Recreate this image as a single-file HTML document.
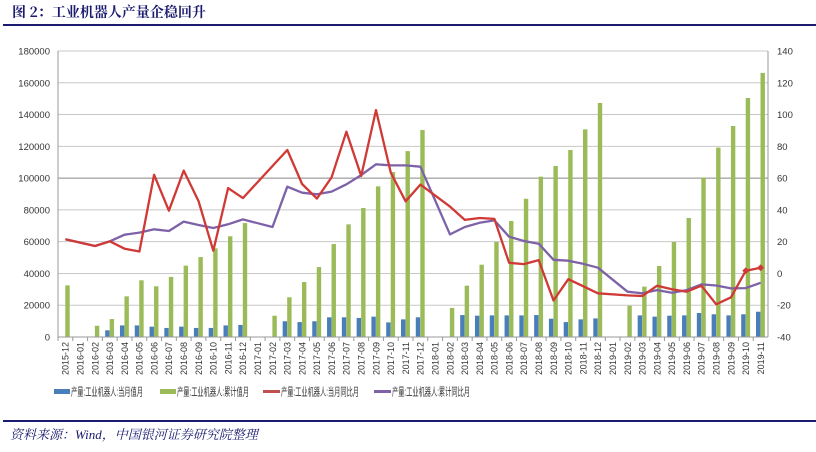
<!DOCTYPE html>
<html><head><meta charset="utf-8"><style>
body{margin:0;background:#fff;width:816px;height:447px;overflow:hidden;font-family:"Liberation Sans","Noto Sans CJK SC",sans-serif;}
</style></head><body>
<svg width="816" height="447" xmlns="http://www.w3.org/2000/svg">
<text x="12" y="17" font-size="14" font-weight="bold" fill="#1a1a6e" font-family="'Noto Serif CJK SC','Noto Sans CJK SC',serif">图 2：工业机器人产量企稳回升</text>
<rect x="3" y="24" width="813" height="2" fill="#1a1a6e"/>
<g id="grid"></g><g id="bars"></g><g id="lines"></g><g id="axes"></g>
<g font-size="11" fill="#333">
<rect x="54" y="389" width="16" height="5" fill="#4a7ebb"/>
<text x="71" y="395.5" textLength="72" lengthAdjust="spacingAndGlyphs">产量:工业机器人:当月值月</text>
<rect x="160" y="389" width="16" height="5" fill="#9bbb59"/>
<text x="177" y="395.5" textLength="72" lengthAdjust="spacingAndGlyphs">产量:工业机器人:累计值月</text>
<rect x="263" y="390" width="17" height="3" fill="#c0504d"/>
<text x="281" y="395.5" textLength="78" lengthAdjust="spacingAndGlyphs">产量:工业机器人:当月同比月</text>
<rect x="374" y="390" width="17" height="3" fill="#7e62a8"/>
<text x="392" y="395.5" textLength="78" lengthAdjust="spacingAndGlyphs">产量:工业机器人:累计同比月</text>
</g>
<rect x="3" y="420" width="813" height="2" fill="#1a1a6e"/>
<text x="10" y="439" font-size="13" font-style="italic" fill="#1a1a6e" font-family="'Liberation Serif','Noto Serif CJK SC',serif">资料来源：Wind，中国银河证券研究院整理</text>
</svg>
<script>
const categories=["2015-12","2016-01","2016-02","2016-03","2016-04","2016-05","2016-06","2016-07","2016-08","2016-09","2016-10","2016-11","2016-12","2017-01","2017-02","2017-03","2017-04","2017-05","2017-06","2017-07","2017-08","2017-09","2017-10","2017-11","2017-12","2018-01","2018-02","2018-03","2018-04","2018-05","2018-06","2018-07","2018-08","2018-09","2018-10","2018-11","2018-12","2019-01","2019-02","2019-03","2019-04","2019-05","2019-06","2019-07","2019-08","2019-09","2019-10","2019-11"];
const monthly=[null,null,null,4200,7300,7300,6500,5700,6500,5700,5700,7300,7600,null,null,9900,9400,9900,12400,12400,12000,12800,9200,11100,12400,null,null,13800,13400,13600,13600,13600,13800,11500,9400,11100,11700,null,null,13600,12800,13400,13600,15100,14300,13600,14300,15900];
const cumulative=[32500,null,7100,11300,25600,35700,31900,37800,44900,50300,55800,63400,71700,null,13400,25000,34600,44000,58500,70900,81200,94800,103800,117000,130300,null,18300,32300,45500,59800,73000,87000,100900,107600,117700,130700,147300,null,19700,31700,44700,59800,74900,100300,119200,132800,150400,166200];
const monthlyYoy=[21.5,null,17.3,20.2,15.6,13.8,62.1,39.5,64.7,45.6,14.3,53.7,47.4,null,null,77.7,56.3,47.1,60.5,89.2,61.3,102.8,63.4,45.4,55.9,null,42.1,33.7,34.9,34.3,6.7,5.9,8.4,-17.0,-3.6,-8.0,-12.5,null,-13.8,-14.2,-7.7,-10.0,-11.5,-7.7,-19.4,-15.0,1.7,3.6];
const cumulativeYoy=[21.5,null,17.3,20.2,24.4,25.7,27.8,26.7,32.6,30.5,28.6,30.9,34.0,null,29.2,54.6,50.8,49.8,51.5,56.1,61.9,68.7,68.0,68.0,67.2,null,24.6,29.2,31.9,33.4,23.1,20.4,18.7,8.6,8.0,6.1,3.6,null,-11.5,-12.5,-10.5,-12.1,-10.5,-6.9,-7.6,-9.4,-9.2,-5.9];
const leftTicks=[0,20000,40000,60000,80000,100000,120000,140000,160000,180000];
const rightTicks=[-40,-20,0,20,40,60,80,100,120,140];
const NS="http://www.w3.org/2000/svg";
const X0=58,X1=768,Y0=337,Y1=51;
const step=(X1-X0)/categories.length;
const cx=i=>X0+(i+0.5)*step;
const yL=v=>Y0-(v/180000)*(Y0-Y1);
const yR=v=>Y0-((v+40)/180)*(Y0-Y1);
function mk(tag,attrs,parent){const e=document.createElementNS(NS,tag);for(const k in attrs)e.setAttribute(k,attrs[k]);document.getElementById(parent).appendChild(e);return e;}
leftTicks.forEach(t=>{
 const g=mk('line',{x1:X0,x2:X1,y1:yL(t),y2:yL(t),stroke:t===100000?'#888':'#c8c8c8','stroke-width':1},'grid');
 
 
 const l=mk('text',{x:X0-8,y:yL(t)+3.5,'text-anchor':'end','font-size':9.5,fill:'#333'},'axes');l.textContent=t;
 
 
});
rightTicks.forEach(t=>{
 const l=mk('text',{x:X1+9,y:yR(t)+3.5,'font-size':9.5,fill:'#333'},'axes');l.textContent=t;
 
 
});
let a=mk('line',{x1:X0,x2:X0,y1:Y1,y2:Y0,stroke:'#999'},'axes');


a=mk('line',{x1:X1,x2:X1,y1:Y1,y2:Y0,stroke:'#999'},'axes');


a=mk('line',{x1:X0,x2:X1,y1:Y0,y2:Y0,stroke:'#999'},'axes');


categories.forEach((c,i)=>{
 const tk=mk('line',{x1:X0+i*step,x2:X0+i*step,y1:Y0,y2:Y0+4,stroke:'#999'},'axes');
 
 
 const x=cx(i)+3.3;
 const t=mk('text',{x:x,y:342,'font-size':9,fill:'#333','text-anchor':'end',transform:`rotate(-90 ${x} 342)`},'axes');t.textContent=c;
 
 
 if(monthly[i]!=null){const r=mk('rect',{x:cx(i)-4.6,y:yL(monthly[i]),width:4.4,height:Y0-yL(monthly[i]),fill:'#4a7ebb'},'bars');
  
  }
 if(cumulative[i]!=null){const r=mk('rect',{x:cx(i)-0.1,y:yL(cumulative[i]),width:4.4,height:Y0-yL(cumulative[i]),fill:'#9bbb59'},'bars');
  
  }
});
function line(arr,color,name){
 const pts=[];arr.forEach((v,i)=>{if(v!=null)pts.push(cx(i).toFixed(1)+','+yR(v).toFixed(1));});
 const p=mk('polyline',{points:pts.join(' '),fill:'none',stroke:color,'stroke-width':2.3,'stroke-linejoin':'round'},'lines');
 
 
}
line(cumulativeYoy,'#7e62a8','line-cumulative-yoy');
line(monthlyYoy,'#d03a36','line-monthly-yoy');
[46,47].forEach(i=>{const m=mk('rect',{x:cx(i)-2.5,y:yR(monthlyYoy[i])-2.5,width:5,height:5,fill:'#d03a36',transform:`rotate(45 ${cx(i)} ${yR(monthlyYoy[i])})`},'lines');
 
 });
</script>
</body></html>
